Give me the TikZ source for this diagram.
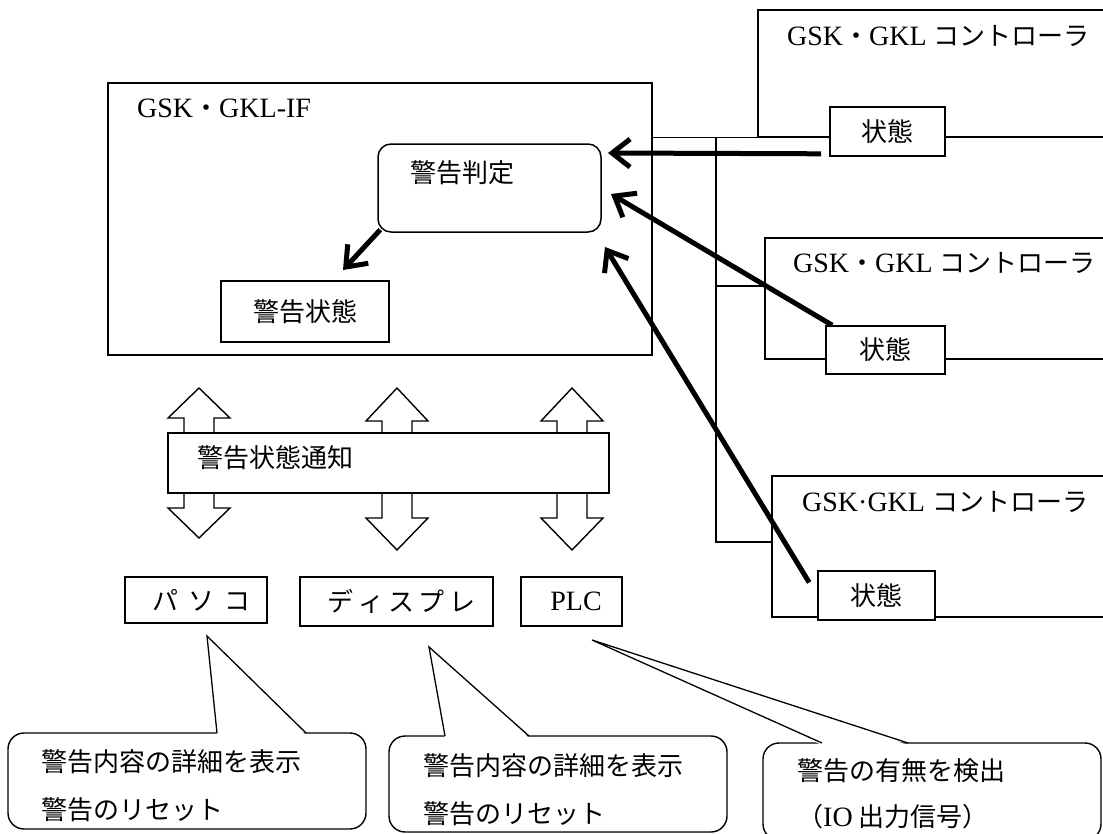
\documentclass[tikz,border=0pt]{standalone}
\usepackage{fontspec}
\setmainfont{Liberation Serif}
\newfontfamily\jp{Noto Sans CJK JP}
\usetikzlibrary{arrows.meta, positioning, calc}

\begin{document}
\begin{tikzpicture}[x=1pt, y=-1pt,
    panel/.style={draw, line width=1.6pt, fill=white, inner sep=0pt},
    judgebox/.style={draw, line width=1.5pt, rounded corners=13pt, inner sep=0pt},
    tagbox/.style={draw, line width=1.6pt, fill=white, inner sep=0pt,
                   font=\jp\fontsize{26}{30}\selectfont},
    lbl/.style={inner sep=0pt, anchor=west, font=\fontsize{28}{32}\selectfont},
    jlbl/.style={lbl, font=\jp\fontsize{26}{30}\selectfont},
    wire/.style={line width=1.3pt},
    feed/.style={line width=5pt, -{Straight Barb[length=18pt,width=28pt]}},
    fatarrow/.style={draw, fill=white, line width=1.4pt},
    bubble/.style={draw, fill=white, line width=1.4pt, rounded corners=16pt, inner sep=0pt}
  ]
  \useasboundingbox (0,0) rectangle (1103,833);
  \clip (0,0) rectangle (1103,833);

  % interface unit
  \node[panel, minimum width=544pt, minimum height=272pt] (gif) at (380,219) {};
  \node[lbl] (giftitle) at (137,108) {GSK{\jp\fontsize{26}{30}\selectfont ・}GKL-IF};
  \node[judgebox, minimum width=223pt, minimum height=88pt] (judge) at (489.5,188) {};
  \node[jlbl] (judgetxt) at (410,173) {警告判定};
  \node[tagbox, minimum width=168pt, minimum height=61pt] (state) at (305,311.5) {警告状態};

  % controllers
  \node[panel, minimum width=382pt, minimum height=127pt] (ctrl1) at (949,73.5) {};
  \node[lbl] (ctrl1txt) at (787,36)
    {GSK{\jp\fontsize{26}{30}\selectfont ・}GKL {\jp\fontsize{26}{30}\selectfont コントローラ}};
  \node[tagbox, minimum width=115pt, minimum height=49pt] (stat1) at (887.5,131.5) {状態};

  \node[panel, minimum width=375pt, minimum height=121pt] (ctrl2) at (952.5,298.5) {};
  \node[lbl] (ctrl2txt) at (793,263)
    {GSK{\jp\fontsize{26}{30}\selectfont ・}GKL {\jp\fontsize{26}{30}\selectfont コントローラ}};
  \node[tagbox, minimum width=119pt, minimum height=48pt] (stat2) at (885.5,350) {状態};

  \node[panel, minimum width=368pt, minimum height=141pt] (ctrl3) at (956,546.5) {};
  \node[lbl] (ctrl3txt) at (802,502) {GSK·GKL {\jp\fontsize{26}{30}\selectfont コントローラ}};
  \node[tagbox, minimum width=117pt, minimum height=49pt] (stat3) at (876.5,595.5) {状態};

  % bus
  \coordinate (bustop) at (716,137);
  \coordinate (bus2) at (716,286);
  \coordinate (busbot) at (716,542);
  \draw[wire] (gif.east |- ctrl1.south west) -- (ctrl1.south west);
  \draw[wire] (bustop) -- (busbot) -- (busbot -| ctrl3.west);
  \draw[wire] (bus2) -- (bus2 -| ctrl2.west);

  % status inputs
  \coordinate (in1) at (608,153);
  \coordinate (in2) at (611,194);
  \coordinate (in3) at (605,247);
  \coordinate (tostate) at (343,270);
  \draw[feed] ([shift={(-8pt,3pt)}]stat1.south west) -- (in1);
  \draw[feed] ([xshift=7pt]stat2.north west) -- (in2);
  \draw[feed] ([shift={(-8pt,13pt)}]stat3.west) -- (in3);
  \draw[feed] ([shift={(3pt,3pt)}]judge.south west) -- (tostate);

  % notification
  \draw[fatarrow] (199,388) -- (230,418) -- (214,418) -- (214,508) -- (230,508) -- (199,538)
    -- (168,508) -- (184,508) -- (184,418) -- (168,418) -- cycle;
  \draw[fatarrow] (397,388) -- (428,421) -- (412,421) -- (412,518) -- (428,518) -- (397,550)
    -- (366,518) -- (382,518) -- (382,421) -- (366,421) -- cycle;
  \draw[fatarrow] (572,388) -- (603,421) -- (587,421) -- (587,518) -- (603,518) -- (572,550)
    -- (541,518) -- (557,518) -- (557,421) -- (541,421) -- cycle;
  \node[panel, minimum width=441pt, minimum height=60pt] (notify) at (388.5,463) {};
  \node[jlbl] (notifytxt) at (197,458) {警告状態通知};

  % devices
  \node[tagbox, minimum width=142pt, minimum height=46pt] (pc) at (196,600)
    {\hspace{11pt}パ\hspace{0.4em}ソ\hspace{0.4em}コ};
  \node[tagbox, minimum width=193pt, minimum height=49pt] (disp) at (396.5,601.5)
    {\hspace{10pt}デ\,ィ\,ス\,プ\,レ};
  \node[tagbox, font=\fontsize{28}{32}\selectfont, minimum width=101pt, minimum height=49pt]
    (plc) at (571.5,601.5) {\hspace{9pt}PLC};

  % notes
  \node[bubble, minimum width=358pt, minimum height=96pt] (note1) at (187,781) {};
  \fill[white] (217,735) -- (207,636) -- (306,735) -- cycle;
  \draw[wire] (217,733) -- (207,636) -- (306,733);
  \node[jlbl, align=left, font=\jp\fontsize{26}{48}\selectfont] (note1txt) at (41,786)
    {警告内容の詳細を表示\\警告のリセット};

  \node[bubble, minimum width=338pt, minimum height=96pt] (note2) at (558,784) {};
  \fill[white] (445,738) -- (429,647) -- (529,738) -- cycle;
  \draw[wire] (445,736) -- (429,647) -- (529,736);
  \node[jlbl, align=left, font=\jp\fontsize{26}{48}\selectfont] (note2txt) at (423,790)
    {警告内容の詳細を表示\\警告のリセット};

  \node[bubble, minimum width=338pt, minimum height=97pt] (note3) at (932,791.5) {};
  \fill[white] (822,745) -- (592,640) -- (908,745) -- cycle;
  \draw[wire] (822,743) -- (592,640) -- (908,743);
  \node[jlbl, align=left, font=\jp\fontsize{26}{46}\selectfont] (note3txt) at (797,794)
    {警告の有無を検出\\（{\rmfamily\fontsize{28}{32}\selectfont IO} 出力信号）};
\end{tikzpicture}
\end{document}
